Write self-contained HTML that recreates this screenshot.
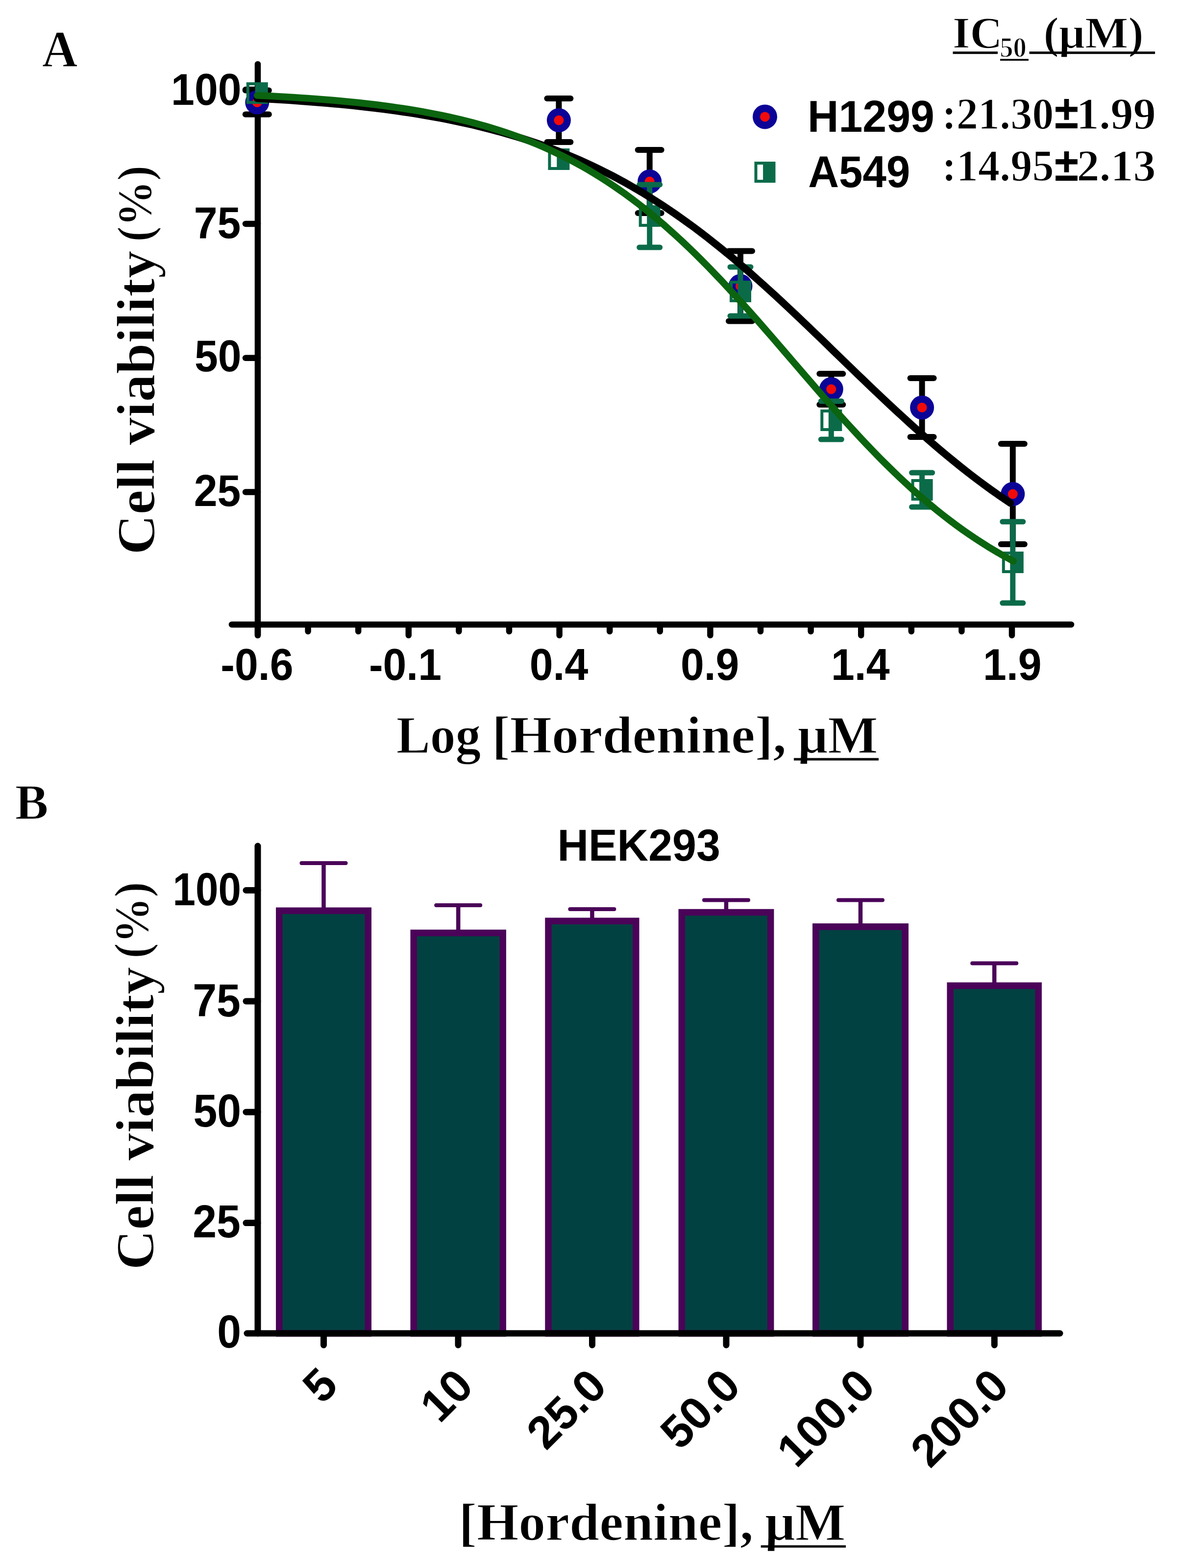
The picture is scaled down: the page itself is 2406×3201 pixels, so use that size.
<!DOCTYPE html><html><head><meta charset="utf-8"><title>Cell viability</title><style>html,body{margin:0;padding:0;background:#fff;overflow:hidden;}svg{display:block;}</style></head><body>
<svg width="2406" height="3201" viewBox="0 0 2406 3201">
<rect width="2406" height="3201" fill="#fff"/>
<text transform="translate(85.7 136.0) scale(0.96 1)" style="font-family:&quot;Liberation Serif&quot;,&quot;Times New Roman&quot;,serif;font-weight:bold;font-size:105px" fill="#000" stroke="#fff" stroke-width="1.5" stroke-linejoin="round" paint-order="fill">A</text>
<g stroke="#000" stroke-width="12.5" fill="none">
<line x1="526" y1="131" x2="526" y2="1297" stroke-linecap="round"/>
<line x1="473" y1="1275" x2="2186" y2="1275" stroke-linecap="round"/>
<line x1="501" y1="183.1" x2="526" y2="183.1" stroke-linecap="round"/>
<line x1="501" y1="456.9" x2="526" y2="456.9" stroke-linecap="round"/>
<line x1="501" y1="730.8" x2="526" y2="730.8" stroke-linecap="round"/>
<line x1="501" y1="1004.6" x2="526" y2="1004.6" stroke-linecap="round"/>
<line x1="526.0" y1="1275" x2="526.0" y2="1297" stroke-linecap="round"/>
<line x1="628.6" y1="1275" x2="628.6" y2="1289" stroke-linecap="round"/>
<line x1="731.2" y1="1275" x2="731.2" y2="1289" stroke-linecap="round"/>
<line x1="833.8" y1="1275" x2="833.8" y2="1297" stroke-linecap="round"/>
<line x1="936.4" y1="1275" x2="936.4" y2="1289" stroke-linecap="round"/>
<line x1="1039.0" y1="1275" x2="1039.0" y2="1289" stroke-linecap="round"/>
<line x1="1141.6" y1="1275" x2="1141.6" y2="1297" stroke-linecap="round"/>
<line x1="1244.2" y1="1275" x2="1244.2" y2="1289" stroke-linecap="round"/>
<line x1="1346.8" y1="1275" x2="1346.8" y2="1289" stroke-linecap="round"/>
<line x1="1449.4" y1="1275" x2="1449.4" y2="1297" stroke-linecap="round"/>
<line x1="1552.0" y1="1275" x2="1552.0" y2="1289" stroke-linecap="round"/>
<line x1="1654.6" y1="1275" x2="1654.6" y2="1289" stroke-linecap="round"/>
<line x1="1757.2" y1="1275" x2="1757.2" y2="1297" stroke-linecap="round"/>
<line x1="1859.8" y1="1275" x2="1859.8" y2="1289" stroke-linecap="round"/>
<line x1="1962.4" y1="1275" x2="1962.4" y2="1289" stroke-linecap="round"/>
<line x1="2065.0" y1="1275" x2="2065.0" y2="1297" stroke-linecap="round"/>
</g>
<text transform="translate(349.1 213.7) scale(0.945 1)" style="font-family:&quot;Liberation Sans&quot;,Arial,sans-serif;font-weight:bold;font-size:91px" fill="#000">100</text>
<text transform="translate(395.8 486.1) scale(0.945 1)" style="font-family:&quot;Liberation Sans&quot;,Arial,sans-serif;font-weight:bold;font-size:91px" fill="#000">75</text>
<text transform="translate(396.9 758.1) scale(0.945 1)" style="font-family:&quot;Liberation Sans&quot;,Arial,sans-serif;font-weight:bold;font-size:91px" fill="#000">50</text>
<text transform="translate(395.8 1032.9) scale(0.945 1)" style="font-family:&quot;Liberation Sans&quot;,Arial,sans-serif;font-weight:bold;font-size:91px" fill="#000">25</text>
<text transform="translate(450.3 1388.1) scale(0.945 1)" style="font-family:&quot;Liberation Sans&quot;,Arial,sans-serif;font-weight:bold;font-size:91px" fill="#000">-0.6</text>
<text transform="translate(752.9 1388.1) scale(0.945 1)" style="font-family:&quot;Liberation Sans&quot;,Arial,sans-serif;font-weight:bold;font-size:91px" fill="#000">-0.1</text>
<text transform="translate(1080.7 1388.1) scale(0.945 1)" style="font-family:&quot;Liberation Sans&quot;,Arial,sans-serif;font-weight:bold;font-size:91px" fill="#000">0.4</text>
<text transform="translate(1388.9 1388.1) scale(0.945 1)" style="font-family:&quot;Liberation Sans&quot;,Arial,sans-serif;font-weight:bold;font-size:91px" fill="#000">0.9</text>
<text transform="translate(1696.0 1388.1) scale(0.945 1)" style="font-family:&quot;Liberation Sans&quot;,Arial,sans-serif;font-weight:bold;font-size:91px" fill="#000">1.4</text>
<text transform="translate(2006.1 1388.1) scale(0.945 1)" style="font-family:&quot;Liberation Sans&quot;,Arial,sans-serif;font-weight:bold;font-size:91px" fill="#000">1.9</text>
<text transform="translate(808.7 1536.8) scale(0.9592 1)" style="font-family:&quot;Liberation Serif&quot;,&quot;Times New Roman&quot;,serif;font-weight:bold;font-size:108px" fill="#000" stroke="#fff" stroke-width="1.5" stroke-linejoin="round" paint-order="fill">Log</text>
<text transform="translate(1003.9 1536.8) scale(1.017 1)" style="font-family:&quot;Liberation Serif&quot;,&quot;Times New Roman&quot;,serif;font-weight:bold;font-size:108px" fill="#000" stroke="#fff" stroke-width="1.5" stroke-linejoin="round" paint-order="fill">[Hordenine],</text>
<text transform="translate(1627.8 1536.8) scale(1.0047 1)" style="font-family:&quot;Liberation Serif&quot;,&quot;Times New Roman&quot;,serif;font-weight:bold;font-size:108px" fill="#000" stroke="#fff" stroke-width="1.5" stroke-linejoin="round" paint-order="fill">μM</text>
<rect x="1620" y="1547.5" width="173" height="5" fill="#000"/>
<text transform="translate(315 1132.6) rotate(-90) scale(1.0322 1)" style="font-family:&quot;Liberation Serif&quot;,&quot;Times New Roman&quot;,serif;font-weight:bold;font-size:110px" fill="#000" stroke="#fff" stroke-width="1.5" stroke-linejoin="round" paint-order="fill">Cell viability</text><text transform="translate(308 493.4) rotate(-90) scale(0.9335 1)" style="font-family:&quot;Liberation Serif&quot;,&quot;Times New Roman&quot;,serif;font-weight:bold;font-size:100px" fill="#000" stroke="#fff" stroke-width="1.5" stroke-linejoin="round" paint-order="fill">(%)</text>
<line x1="524.8" y1="184.5" x2="524.8" y2="233.5" stroke="#000" stroke-width="12"/><line x1="500.8" y1="184.5" x2="548.8" y2="184.5" stroke="#000" stroke-width="12" stroke-linecap="round"/><line x1="500.8" y1="233.5" x2="548.8" y2="233.5" stroke="#000" stroke-width="12" stroke-linecap="round"/>
<line x1="1140.4" y1="201.0" x2="1140.4" y2="290.0" stroke="#000" stroke-width="12"/><line x1="1116.4" y1="201.0" x2="1164.4" y2="201.0" stroke="#000" stroke-width="12" stroke-linecap="round"/><line x1="1116.4" y1="290.0" x2="1164.4" y2="290.0" stroke="#000" stroke-width="12" stroke-linecap="round"/>
<line x1="1325.7" y1="306.0" x2="1325.7" y2="435.0" stroke="#000" stroke-width="12"/><line x1="1301.7" y1="306.0" x2="1349.7" y2="306.0" stroke="#000" stroke-width="12" stroke-linecap="round"/><line x1="1301.7" y1="435.0" x2="1349.7" y2="435.0" stroke="#000" stroke-width="12" stroke-linecap="round"/>
<line x1="1511.0" y1="512.5" x2="1511.0" y2="655.5" stroke="#000" stroke-width="12"/><line x1="1487.0" y1="512.5" x2="1535.0" y2="512.5" stroke="#000" stroke-width="12" stroke-linecap="round"/><line x1="1487.0" y1="655.5" x2="1535.0" y2="655.5" stroke="#000" stroke-width="12" stroke-linecap="round"/>
<line x1="1696.3" y1="763.0" x2="1696.3" y2="826.0" stroke="#000" stroke-width="12"/><line x1="1672.3" y1="763.0" x2="1720.3" y2="763.0" stroke="#000" stroke-width="12" stroke-linecap="round"/><line x1="1672.3" y1="826.0" x2="1720.3" y2="826.0" stroke="#000" stroke-width="12" stroke-linecap="round"/>
<line x1="1881.6" y1="772.0" x2="1881.6" y2="892.0" stroke="#000" stroke-width="12"/><line x1="1857.6" y1="772.0" x2="1905.6" y2="772.0" stroke="#000" stroke-width="12" stroke-linecap="round"/><line x1="1857.6" y1="892.0" x2="1905.6" y2="892.0" stroke="#000" stroke-width="12" stroke-linecap="round"/>
<line x1="2066.8" y1="906.0" x2="2066.8" y2="1111.0" stroke="#000" stroke-width="12"/><line x1="2042.8" y1="906.0" x2="2090.8" y2="906.0" stroke="#000" stroke-width="12" stroke-linecap="round"/><line x1="2042.8" y1="1111.0" x2="2090.8" y2="1111.0" stroke="#000" stroke-width="12" stroke-linecap="round"/>
<circle cx="524.8" cy="209.0" r="24.5" fill="#0c0496"/><circle cx="524.8" cy="209.0" r="10" fill="#f20a0a"/>
<circle cx="1140.4" cy="245.5" r="24.5" fill="#0c0496"/><circle cx="1140.4" cy="245.5" r="10" fill="#f20a0a"/>
<circle cx="1325.7" cy="370.5" r="24.5" fill="#0c0496"/><circle cx="1325.7" cy="370.5" r="10" fill="#f20a0a"/>
<circle cx="1511.0" cy="584.0" r="24.5" fill="#0c0496"/><circle cx="1511.0" cy="584.0" r="10" fill="#f20a0a"/>
<circle cx="1696.3" cy="794.5" r="24.5" fill="#0c0496"/><circle cx="1696.3" cy="794.5" r="10" fill="#f20a0a"/>
<circle cx="1881.6" cy="832.0" r="24.5" fill="#0c0496"/><circle cx="1881.6" cy="832.0" r="10" fill="#f20a0a"/>
<circle cx="2066.8" cy="1008.5" r="24.5" fill="#0c0496"/><circle cx="2066.8" cy="1008.5" r="10" fill="#f20a0a"/>
<line x1="1325.7" y1="377.0" x2="1325.7" y2="505.0" stroke="#0b6b49" stroke-width="11"/><line x1="1304.7" y1="377.0" x2="1346.7" y2="377.0" stroke="#0b6b49" stroke-width="11" stroke-linecap="round"/><line x1="1304.7" y1="505.0" x2="1346.7" y2="505.0" stroke="#0b6b49" stroke-width="11" stroke-linecap="round"/>
<line x1="1511.0" y1="545.0" x2="1511.0" y2="645.0" stroke="#0b6b49" stroke-width="11"/><line x1="1490.0" y1="545.0" x2="1532.0" y2="545.0" stroke="#0b6b49" stroke-width="11" stroke-linecap="round"/><line x1="1490.0" y1="645.0" x2="1532.0" y2="645.0" stroke="#0b6b49" stroke-width="11" stroke-linecap="round"/>
<line x1="1696.3" y1="819.0" x2="1696.3" y2="897.0" stroke="#0b6b49" stroke-width="11"/><line x1="1675.3" y1="819.0" x2="1717.3" y2="819.0" stroke="#0b6b49" stroke-width="11" stroke-linecap="round"/><line x1="1675.3" y1="897.0" x2="1717.3" y2="897.0" stroke="#0b6b49" stroke-width="11" stroke-linecap="round"/>
<line x1="1881.6" y1="965.0" x2="1881.6" y2="1035.0" stroke="#0b6b49" stroke-width="11"/><line x1="1860.6" y1="965.0" x2="1902.6" y2="965.0" stroke="#0b6b49" stroke-width="11" stroke-linecap="round"/><line x1="1860.6" y1="1035.0" x2="1902.6" y2="1035.0" stroke="#0b6b49" stroke-width="11" stroke-linecap="round"/>
<line x1="2066.8" y1="1065.0" x2="2066.8" y2="1231.0" stroke="#0b6b49" stroke-width="11"/><line x1="2045.8" y1="1065.0" x2="2087.8" y2="1065.0" stroke="#0b6b49" stroke-width="11" stroke-linecap="round"/><line x1="2045.8" y1="1231.0" x2="2087.8" y2="1231.0" stroke="#0b6b49" stroke-width="11" stroke-linecap="round"/>
<path d="M502.8,168.0h44v44h-44z M508.8,174.0v32h11.9v-32z" fill="#0b6b49" fill-rule="evenodd"/>
<path d="M1118.4,303.0h44v44h-44z M1124.4,309.0v32h11.9v-32z" fill="#0b6b49" fill-rule="evenodd"/>
<path d="M1303.7,419.0h44v44h-44z M1309.7,425.0v32h11.9v-32z" fill="#0b6b49" fill-rule="evenodd"/>
<path d="M1489.0,573.0h44v44h-44z M1495.0,579.0v32h11.9v-32z" fill="#0b6b49" fill-rule="evenodd"/>
<path d="M1674.3,836.0h44v44h-44z M1680.3,842.0v32h11.9v-32z" fill="#0b6b49" fill-rule="evenodd"/>
<path d="M1859.6,978.0h44v44h-44z M1865.6,984.0v32h11.9v-32z" fill="#0b6b49" fill-rule="evenodd"/>
<path d="M2044.8,1126.0h44v44h-44z M2050.8,1132.0v32h11.9v-32z" fill="#0b6b49" fill-rule="evenodd"/>
<polyline points="524.8,200.7 537.7,201.5 550.6,202.2 563.5,203.0 576.4,203.8 589.4,204.6 602.3,205.5 615.2,206.4 628.1,207.4 641.0,208.4 653.9,209.4 666.9,210.5 679.8,211.7 692.7,212.9 705.6,214.1 718.5,215.4 731.4,216.8 744.4,218.2 757.3,219.7 770.2,221.3 783.1,222.9 796.0,224.6 808.9,226.4 821.9,228.3 834.8,230.2 847.7,232.2 860.6,234.4 873.5,236.6 886.5,238.9 899.4,241.2 912.3,243.7 925.2,246.3 938.1,249.1 951.0,251.9 964.0,254.8 976.9,257.9 989.8,261.1 1002.7,264.4 1015.6,267.9 1028.5,271.4 1041.5,275.2 1054.4,279.1 1067.3,283.1 1080.2,287.3 1093.1,291.7 1106.0,296.2 1119.0,300.9 1131.9,305.7 1144.8,310.8 1157.7,316.0 1170.6,321.4 1183.5,327.0 1196.5,332.8 1209.4,338.8 1222.3,345.0 1235.2,351.4 1248.1,358.0 1261.1,364.9 1274.0,371.9 1286.9,379.2 1299.8,386.7 1312.7,394.4 1325.6,402.3 1338.6,410.5 1351.5,418.8 1364.4,427.4 1377.3,436.2 1390.2,445.3 1403.1,454.6 1416.1,464.0 1429.0,473.7 1441.9,483.6 1454.8,493.8 1467.7,504.1 1480.6,514.6 1493.6,525.3 1506.5,536.2 1519.4,547.3 1532.3,558.5 1545.2,570.0 1558.1,581.5 1571.1,593.2 1584.0,605.1 1596.9,617.0 1609.8,629.1 1622.7,641.3 1635.7,653.6 1648.6,665.9 1661.5,678.3 1674.4,690.7 1687.3,703.2 1700.2,715.8 1713.2,728.3 1726.1,740.8 1739.0,753.3 1751.9,765.8 1764.8,778.2 1777.7,790.6 1790.7,802.9 1803.6,815.1 1816.5,827.2 1829.4,839.2 1842.3,851.1 1855.2,862.9 1868.2,874.6 1881.1,886.0 1894.0,897.4 1906.9,908.5 1919.8,919.5 1932.7,930.3 1945.7,940.9 1958.6,951.4 1971.5,961.6 1984.4,971.6 1997.3,981.4 2010.3,991.0 2023.2,1000.3 2036.1,1009.5 2049.0,1018.4 2061.9,1027.1" fill="none" stroke="#000" stroke-width="15" stroke-linejoin="round" stroke-linecap="round"/>
<polyline points="524.8,194.8 537.7,195.4 550.7,196.1 563.7,196.8 576.6,197.5 589.6,198.2 602.6,199.0 615.6,199.9 628.5,200.8 641.5,201.7 654.5,202.7 667.4,203.7 680.4,204.8 693.4,206.0 706.3,207.2 719.3,208.5 732.3,209.8 745.2,211.2 758.2,212.7 771.2,214.3 784.1,216.0 797.1,217.7 810.1,219.6 823.1,221.5 836.0,223.5 849.0,225.7 862.0,227.9 874.9,230.3 887.9,232.8 900.9,235.4 913.8,238.2 926.8,241.1 939.8,244.1 952.7,247.3 965.7,250.6 978.7,254.2 991.7,257.8 1004.6,261.7 1017.6,265.8 1030.6,270.0 1043.5,274.4 1056.5,279.1 1069.5,284.0 1082.4,289.0 1095.4,294.4 1108.4,299.9 1121.3,305.7 1134.3,311.8 1147.3,318.1 1160.2,324.6 1173.2,331.5 1186.2,338.6 1199.2,346.0 1212.1,353.8 1225.1,361.8 1238.1,370.1 1251.0,378.7 1264.0,387.6 1277.0,396.8 1289.9,406.4 1302.9,416.3 1315.9,426.5 1328.8,437.0 1341.8,447.8 1354.8,458.9 1367.8,470.4 1380.7,482.1 1393.7,494.1 1406.7,506.5 1419.6,519.1 1432.6,532.0 1445.6,545.2 1458.5,558.6 1471.5,572.2 1484.5,586.1 1497.4,600.2 1510.4,614.5 1523.4,628.9 1536.3,643.5 1549.3,658.2 1562.3,673.1 1575.3,688.0 1588.2,703.0 1601.2,718.1 1614.2,733.2 1627.1,748.3 1640.1,763.4 1653.1,778.4 1666.0,793.4 1679.0,808.3 1692.0,823.1 1704.9,837.7 1717.9,852.3 1730.9,866.6 1743.9,880.8 1756.8,894.7 1769.8,908.5 1782.8,922.0 1795.7,935.3 1808.7,948.3 1821.7,961.1 1834.6,973.5 1847.6,985.7 1860.6,997.6 1873.5,1009.2 1886.5,1020.4 1899.5,1031.4 1912.5,1042.1 1925.4,1052.4 1938.4,1062.4 1951.4,1072.1 1964.3,1081.5 1977.3,1090.5 1990.3,1099.3 2003.2,1107.7 2016.2,1115.9 2029.2,1123.7 2042.1,1131.3 2055.1,1138.5 2068.1,1145.5" fill="none" stroke="#0b640f" stroke-width="14" stroke-linejoin="round" stroke-linecap="round"/>
<circle cx="1561.0" cy="238.4" r="25" fill="#0c0496"/><circle cx="1561.0" cy="238.4" r="10" fill="#f20a0a"/>
<path d="M1539.5,330.0h43v43h-43z M1545.5,336.0v31h11.6v-31z" fill="#0b6b49" fill-rule="evenodd"/>
<text transform="translate(1648.1 268.9) scale(0.965 1)" style="font-family:&quot;Liberation Sans&quot;,Arial,sans-serif;font-weight:bold;font-size:91px" fill="#000">H1299</text>
<text transform="translate(1649.3 381.8) scale(0.956 1)" style="font-family:&quot;Liberation Sans&quot;,Arial,sans-serif;font-weight:bold;font-size:91px" fill="#000">A549</text>
<text transform="translate(1922.2 262.5) scale(0.9825 1)" style="font-family:&quot;Liberation Serif&quot;,&quot;Times New Roman&quot;,serif;font-weight:bold;font-size:90px" fill="#000" stroke="#fff" stroke-width="1.5" stroke-linejoin="round" paint-order="fill">:21.30</text>
<text transform="translate(2151.9 261.7) scale(0.9294 1)" style="font-family:&quot;Liberation Sans&quot;,Arial,sans-serif;font-weight:bold;font-size:96px" fill="#000">±</text>
<text transform="translate(2196.6 262.5) scale(1.0309 1)" style="font-family:&quot;Liberation Serif&quot;,&quot;Times New Roman&quot;,serif;font-weight:bold;font-size:90px" fill="#000" stroke="#fff" stroke-width="1.5" stroke-linejoin="round" paint-order="fill">1.99</text>
<text transform="translate(1922.3 368.6) scale(0.9821 1)" style="font-family:&quot;Liberation Serif&quot;,&quot;Times New Roman&quot;,serif;font-weight:bold;font-size:90px" fill="#000" stroke="#fff" stroke-width="1.5" stroke-linejoin="round" paint-order="fill">:14.95</text>
<text transform="translate(2151.9 368.6) scale(0.9294 1)" style="font-family:&quot;Liberation Sans&quot;,Arial,sans-serif;font-weight:bold;font-size:96px" fill="#000">±</text>
<text transform="translate(2197.5 368.6) scale(1.0235 1)" style="font-family:&quot;Liberation Serif&quot;,&quot;Times New Roman&quot;,serif;font-weight:bold;font-size:90px" fill="#000" stroke="#fff" stroke-width="1.5" stroke-linejoin="round" paint-order="fill">2.13</text>
<text transform="translate(1944.1 98.0) scale(0.9914 1)" style="font-family:&quot;Liberation Serif&quot;,&quot;Times New Roman&quot;,serif;font-weight:bold;font-size:92px" fill="#000" stroke="#fff" stroke-width="1.5" stroke-linejoin="round" paint-order="fill">IC</text>
<text transform="translate(2040.2 116.0) scale(0.9742 1)" style="font-family:&quot;Liberation Serif&quot;,&quot;Times New Roman&quot;,serif;font-weight:bold;font-size:56px" fill="#000" stroke="#fff" stroke-width="1.5" stroke-linejoin="round" paint-order="fill">50</text>
<text transform="translate(2129.6 98.0) scale(1.0188 1)" style="font-family:&quot;Liberation Serif&quot;,&quot;Times New Roman&quot;,serif;font-weight:bold;font-size:92px" fill="#000" stroke="#fff" stroke-width="1.5" stroke-linejoin="round" paint-order="fill">(μM)</text>
<rect x="1944.5" y="105.2" width="91.5" height="5" fill="#000"/>
<rect x="2100.6" y="105.2" width="256.5" height="5" fill="#000"/>
<rect x="2041" y="120.3" width="58" height="3.6" fill="#000"/>
<text x="30.8" y="1671.7" style="font-family:&quot;Liberation Serif&quot;,&quot;Times New Roman&quot;,serif;font-weight:bold;font-size:101.8px" fill="#000" stroke="#fff" stroke-width="1.5" stroke-linejoin="round" paint-order="fill">B</text>
<text transform="translate(1137.4 1756.5) scale(0.9668 1)" style="font-family:&quot;Liberation Sans&quot;,Arial,sans-serif;font-weight:bold;font-size:91px" fill="#000">HEK293</text>
<line x1="660.5" y1="1762" x2="660.5" y2="1854.4" stroke="#4a0358" stroke-width="8.5"/>
<line x1="615.5" y1="1762" x2="705.5" y2="1762" stroke="#4a0358" stroke-width="8" stroke-linecap="round"/>
<rect x="569.8" y="1859.2" width="181.5" height="862.8" fill="#024141" stroke="#4a0358" stroke-width="13.5"/>
<line x1="935.2" y1="1848" x2="935.2" y2="1899.8" stroke="#4a0358" stroke-width="8.5"/>
<line x1="890.2" y1="1848" x2="980.2" y2="1848" stroke="#4a0358" stroke-width="8" stroke-linecap="round"/>
<rect x="844.2" y="1904.5" width="182.0" height="817.5" fill="#024141" stroke="#4a0358" stroke-width="13.5"/>
<line x1="1208.4" y1="1856" x2="1208.4" y2="1875.4" stroke="#4a0358" stroke-width="8.5"/>
<line x1="1163.4" y1="1856" x2="1253.4" y2="1856" stroke="#4a0358" stroke-width="8" stroke-linecap="round"/>
<rect x="1119.0" y="1880.2" width="178.8" height="841.8" fill="#024141" stroke="#4a0358" stroke-width="13.5"/>
<line x1="1482.0" y1="1837.5" x2="1482.0" y2="1857.7" stroke="#4a0358" stroke-width="8.5"/>
<line x1="1437.0" y1="1837.5" x2="1527.0" y2="1837.5" stroke="#4a0358" stroke-width="8" stroke-linecap="round"/>
<rect x="1391.3" y="1862.5" width="181.4" height="859.5" fill="#024141" stroke="#4a0358" stroke-width="13.5"/>
<line x1="1756.0" y1="1837.5" x2="1756.0" y2="1887" stroke="#4a0358" stroke-width="8.5"/>
<line x1="1711.0" y1="1837.5" x2="1801.0" y2="1837.5" stroke="#4a0358" stroke-width="8" stroke-linecap="round"/>
<rect x="1664.8" y="1891.8" width="182.5" height="830.2" fill="#024141" stroke="#4a0358" stroke-width="13.5"/>
<line x1="2029.2" y1="1966.5" x2="2029.2" y2="2007.5" stroke="#4a0358" stroke-width="8.5"/>
<line x1="1984.2" y1="1966.5" x2="2074.2" y2="1966.5" stroke="#4a0358" stroke-width="8" stroke-linecap="round"/>
<rect x="1939.2" y="2012.2" width="180.0" height="709.8" fill="#024141" stroke="#4a0358" stroke-width="13.5"/>
<g stroke="#000" stroke-width="13" fill="none">
<line x1="526" y1="1727" x2="526" y2="2722" stroke-linecap="round"/>
<line x1="504" y1="2722" x2="2163" y2="2722" stroke-linecap="round"/>
<line x1="502" y1="1817.5" x2="526" y2="1817.5" stroke-linecap="round"/>
<line x1="502" y1="2043.9" x2="526" y2="2043.9" stroke-linecap="round"/>
<line x1="502" y1="2270.2" x2="526" y2="2270.2" stroke-linecap="round"/>
<line x1="502" y1="2496.6" x2="526" y2="2496.6" stroke-linecap="round"/>
<line x1="660.5" y1="2722" x2="660.5" y2="2746" stroke-linecap="round"/>
<line x1="935" y1="2722" x2="935" y2="2746" stroke-linecap="round"/>
<line x1="1208.5" y1="2722" x2="1208.5" y2="2746" stroke-linecap="round"/>
<line x1="1482" y1="2722" x2="1482" y2="2746" stroke-linecap="round"/>
<line x1="1756" y1="2722" x2="1756" y2="2746" stroke-linecap="round"/>
<line x1="2029.3" y1="2722" x2="2029.3" y2="2746" stroke-linecap="round"/>
</g>
<text transform="translate(352.5 1848.0) scale(0.88 1)" style="font-family:&quot;Liberation Sans&quot;,Arial,sans-serif;font-weight:bold;font-size:95px" fill="#000">100</text>
<text transform="translate(393.2 2075.0) scale(0.925 1)" style="font-family:&quot;Liberation Sans&quot;,Arial,sans-serif;font-weight:bold;font-size:95px" fill="#000">75</text>
<text transform="translate(394.4 2300.0) scale(0.925 1)" style="font-family:&quot;Liberation Sans&quot;,Arial,sans-serif;font-weight:bold;font-size:95px" fill="#000">50</text>
<text transform="translate(393.2 2526.0) scale(0.925 1)" style="font-family:&quot;Liberation Sans&quot;,Arial,sans-serif;font-weight:bold;font-size:95px" fill="#000">25</text>
<text transform="translate(443.3 2751.0) scale(0.925 1)" style="font-family:&quot;Liberation Sans&quot;,Arial,sans-serif;font-weight:bold;font-size:95px" fill="#000">0</text>
<text transform="translate(657.2 2869.0) rotate(-45)" style="font-family:&quot;Liberation Sans&quot;,Arial,sans-serif;font-weight:bold;font-size:93.5px" fill="#000">5</text>
<text transform="translate(897.0 2907.9) rotate(-45)" style="font-family:&quot;Liberation Sans&quot;,Arial,sans-serif;font-weight:bold;font-size:93.5px" fill="#000">10</text>
<text transform="translate(1114.2 2963.1) rotate(-45)" style="font-family:&quot;Liberation Sans&quot;,Arial,sans-serif;font-weight:bold;font-size:93.5px" fill="#000">25.0</text>
<text transform="translate(1387.2 2963.1) rotate(-45)" style="font-family:&quot;Liberation Sans&quot;,Arial,sans-serif;font-weight:bold;font-size:93.5px" fill="#000">50.0</text>
<text transform="translate(1625.1 2999.8) rotate(-45)" style="font-family:&quot;Liberation Sans&quot;,Arial,sans-serif;font-weight:bold;font-size:93.5px" fill="#000">100.0</text>
<text transform="translate(1897.9 2999.8) rotate(-45)" style="font-family:&quot;Liberation Sans&quot;,Arial,sans-serif;font-weight:bold;font-size:93.5px" fill="#000">200.0</text>
<text transform="translate(936.3 3143.5) scale(1.0177 1)" style="font-family:&quot;Liberation Serif&quot;,&quot;Times New Roman&quot;,serif;font-weight:bold;font-size:108px" fill="#000" stroke="#fff" stroke-width="1.5" stroke-linejoin="round" paint-order="fill">[Hordenine],</text>
<text transform="translate(1561.0 3143.5) scale(1.0079 1)" style="font-family:&quot;Liberation Serif&quot;,&quot;Times New Roman&quot;,serif;font-weight:bold;font-size:108px" fill="#000" stroke="#fff" stroke-width="1.5" stroke-linejoin="round" paint-order="fill">μM</text>
<rect x="1552.7" y="3154.6" width="173.3" height="4.8" fill="#000"/>
<text transform="translate(313 2592.5) rotate(-90) scale(1.0283 1)" style="font-family:&quot;Liberation Serif&quot;,&quot;Times New Roman&quot;,serif;font-weight:bold;font-size:110px" fill="#000" stroke="#fff" stroke-width="1.5" stroke-linejoin="round" paint-order="fill">Cell viability</text><text transform="translate(302.3 1956.6) rotate(-90) scale(0.9373 1)" style="font-family:&quot;Liberation Serif&quot;,&quot;Times New Roman&quot;,serif;font-weight:bold;font-size:100px" fill="#000" stroke="#fff" stroke-width="1.5" stroke-linejoin="round" paint-order="fill">(%)</text>
</svg></body></html>
